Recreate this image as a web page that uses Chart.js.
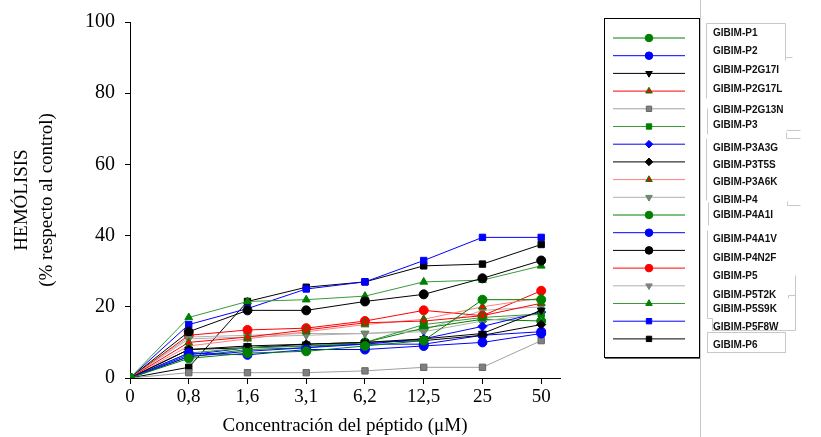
<!DOCTYPE html>
<html>
<head>
<meta charset="utf-8">
<script src="https://cdn.jsdelivr.net/npm/chart.js@4/dist/chart.umd.min.js"></script>
<style>
  html, body { margin: 0; padding: 0; background: #fff; }
  #wrap { width: 821px; height: 437px; }
</style>
</head>
<body>
<div id="wrap"><canvas id="chart" width="821" height="437"></canvas></div>
<script>
// ── Data ─────────────────────────────────────────────────────────────
const CONC_LABELS = ['0', '0,8', '1,6', '3,1', '6,2', '12,5', '25', '50'];
const Y_TICKS = [0, 20, 40, 60, 80, 100];

const P1     = [0, 5.5, 7, 7.5, 9, 10.5, 22, 22];
const P2     = [0, 7, 6.5, 8, 8, 9, 10, 12.5];
const P2G17I = [0, 8, 9, 9.5, 10, 11, 12.5, 19];
const P2G17L = [0, 10, 11.5, 13.5, 15.5, 16, 17.5, 21];
const P2G13N = [0, 1.5, 1.5, 1.5, 2, 3, 3, 10.5];
const P3     = [0, 7, 8.5, 9, 10, 15, 17, 18];
const P3A3G  = [0, 6, 7.5, 8.5, 9.5, 11, 14.5, 18.5];
const P3T5S  = [0, 8, 8.5, 9.5, 10, 10.5, 12, 15];
const P3A6K  = [0, 9, 11, 13, 15, 16.5, 20, 22.5];
const P4     = [0, 11, 11.5, 12, 12.5, 13, 16, 18];
const P4A1I  = [0, 6, 8, 8.5, 10, 14, 16.5, 16];
const P4A1V  = [0, 6.5, 8.5, 9, 9.5, 9.5, 12, 13];
const P4N2F  = [0, 13, 19, 19, 21.5, 23.5, 28, 33];
const P5     = [0, 12, 13.5, 14, 16, 19, 17.5, 24.5];
const P5T2K  = [0, 11.5, 12, 12.5, 12.5, 13.5, 19, 20];
const P5S9K  = [0, 17, 21.5, 22, 23, 27, 27.5, 31.5];
const P5F8W  = [0, 15, 19.5, 25, 27, 33, 39.5, 39.5];
const P6     = [0, 3, 21.5, 25.5, 27, 31.5, 32, 37.5];

// ── Styles ───────────────────────────────────────────────────────────
const GREEN = '#008000', BLUE = '#0000ff', BLACK = '#000000', RED = '#ff0000', GRAY = '#808080';

function series(label, data, line, fill, style, extra) {
  return Object.assign({
    label,
    data: data.map((v, i) => ({ x: i, y: v })),
    borderColor: line,
    backgroundColor: fill,
    pointBackgroundColor: fill,
    pointBorderColor: fill,
    pointStyle: style,
    pointRotation: 0,
    pointRadius: 4.5,
    pointBorderWidth: 1,
    borderWidth: 1,
    tension: 0,
    fill: false,
  }, extra || {});
}

const datasets = [
  series('GIBIM-P1', P1, GREEN, GREEN, 'circle'),
  series('GIBIM-P2', P2, BLUE, BLUE, 'circle'),
  series('GIBIM-P2G17I', P2G17I, BLACK, BLACK, 'triangle', { pointRotation: 180 }),
  series('GIBIM-P2G17L', P2G17L, RED, RED, 'triangle', { pointBorderColor: GREEN }),
  series('GIBIM-P2G13N', P2G13N, '#a0a0a0', GRAY, 'rect', { pointBorderColor: '#666666' }),
  series('GIBIM-P3', P3, '#3a9a3a', GREEN, 'rect'),
  series('GIBIM-P3A3G', P3A3G, BLUE, BLUE, 'rectRot'),
  series('GIBIM-P3T5S', P3T5S, BLACK, BLACK, 'rectRot'),
  series('GIBIM-P3A6K', P3A6K, '#ff8080', RED, 'triangle', { pointBorderColor: GREEN }),
  series('GIBIM-P4', P4, '#b0b0b0', GRAY, 'triangle', { pointRotation: 180, pointBorderColor: '#5a8a5a' }),
  series('GIBIM-P4A1I', P4A1I, GREEN, GREEN, 'circle'),
  series('GIBIM-P4A1V', P4A1V, BLUE, BLUE, 'circle'),
  series('GIBIM-P4N2F', P4N2F, BLACK, BLACK, 'circle'),
  series('GIBIM-P5', P5, RED, RED, 'circle'),
  series('GIBIM-P5T2K', P5T2K, '#b0b0b0', GRAY, 'triangle', { pointRotation: 180 }),
  series('GIBIM-P5S9K', P5S9K, '#3a9a3a', GREEN, 'triangle'),
  series('GIBIM-P5F8W', P5F8W, BLUE, BLUE, 'rect'),
  series('GIBIM-P6', P6, BLACK, BLACK, 'rect'),
];

// legend layout (SigmaPlot-style boxed legend with detached labels)
const LEG_ROW0 = 38, LEG_STEP = 17.7;
const LEG_TEXT_Y = [33, 51, 70, 89, 110, 125, 148, 165, 182, 200, 215, 239, 258, 276, 295, 309, 327, 345];

const legendPlugin = {
  id: 'boxLegend',
  afterDraw(chart) {
    const ctx = chart.ctx;
    const H = Chart.helpers;
    ctx.save();
    // faint outline of the label boxes
    ctx.strokeStyle = '#c8c8c8';
    ctx.lineWidth = 1;
    ctx.beginPath();
    ctx.moveTo(700.5, 0); ctx.lineTo(700.5, 437);
    ctx.moveTo(706.5, 23.5); ctx.lineTo(785.5, 23.5); ctx.lineTo(785.5, 57.5); ctx.lineTo(792.5, 57.5);
    ctx.moveTo(785.5, 57.5); ctx.lineTo(785.5, 60.5);
    ctx.moveTo(706.5, 23.5); ctx.lineTo(706.5, 98.5);
    ctx.moveTo(707.5, 108.5); ctx.lineTo(707.5, 134.5);
    ctx.moveTo(786.5, 130.5); ctx.lineTo(800.5, 130.5);
    ctx.moveTo(786.5, 132.5); ctx.lineTo(786.5, 138.5); ctx.lineTo(800.5, 138.5);
    ctx.moveTo(706.5, 138.5); ctx.lineTo(706.5, 200.5);
    ctx.moveTo(708.5, 202.5); ctx.lineTo(708.5, 225.5);
    ctx.moveTo(787.5, 201.5); ctx.lineTo(787.5, 205.5); ctx.lineTo(800.5, 205.5);
    ctx.moveTo(707.5, 230.5); ctx.lineTo(707.5, 318.5); ctx.lineTo(712.5, 318.5); ctx.lineTo(712.5, 330.5);
    ctx.moveTo(712.5, 330.5); ctx.lineTo(795.5, 330.5); ctx.lineTo(795.5, 275.5);
    ctx.moveTo(788.5, 298.5); ctx.lineTo(788.5, 295.5); ctx.lineTo(795.5, 295.5);
    ctx.stroke();
    ctx.strokeRect(707.5, 332.5, 78, 20);

    // main legend box
    ctx.strokeStyle = '#000';
    ctx.lineWidth = 1;
    ctx.strokeRect(604.5, 18.5, 95, 339);
    ctx.strokeStyle = '#666';
    ctx.beginPath();
    ctx.moveTo(605, 358.5); ctx.lineTo(700, 358.5);
    ctx.stroke();

    chart.data.datasets.forEach((ds, i) => {
      const y = LEG_ROW0 + i * LEG_STEP;
      ctx.strokeStyle = ds.borderColor;
      ctx.lineWidth = 1;
      ctx.beginPath();
      ctx.moveTo(613, y); ctx.lineTo(685, y);
      ctx.stroke();
      ctx.fillStyle = ds.pointBackgroundColor;
      ctx.strokeStyle = ds.pointBorderColor;
      ctx.lineWidth = 1;
      H.drawPoint(ctx, { pointStyle: ds.pointStyle, rotation: ds.pointRotation, radius: 3.8, borderWidth: 1 }, 649, y);

      ctx.fillStyle = '#111';
      ctx.font = 'bold 10px "Liberation Sans", Arial, sans-serif';
      ctx.textBaseline = 'middle';
      ctx.textAlign = 'left';
      ctx.fillText(ds.label, 713, LEG_TEXT_Y[i]);
    });
    ctx.restore();
  }
};

const serif = '"Liberation Serif", "Times New Roman", serif';

new Chart(document.getElementById('chart'), {
  type: 'line',
  data: { datasets },
  options: {
    responsive: false,
    animation: false,
    layout: { padding: { top: 19, right: 261, left: 0, bottom: 0 } },
    plugins: { legend: { display: false }, tooltip: { enabled: false } },
    scales: {
      x: {
        type: 'linear',
        min: 0,
        max: 7.32,
        afterBuildTicks: s => { s.ticks = CONC_LABELS.map((_, i) => ({ value: i })); },
        afterFit: s => { s.height = 59; },
        border: { display: true, color: '#000', width: 1 },
        grid: { drawOnChartArea: false, drawTicks: true, tickLength: 6, color: '#000' },
        ticks: {
          color: '#000',
          font: { family: serif, size: 19 },
          padding: 2,
          maxRotation: 0,
          callback: v => CONC_LABELS[v],
        },
        title: {
          display: true,
          text: 'Concentración del péptido (μM)',
          color: '#000',
          font: { family: serif, size: 19 },
          padding: { top: 0, bottom: 0 },
        },
      },
      y: {
        min: 0,
        max: 100,
        afterBuildTicks: s => { s.ticks = Y_TICKS.map(v => ({ value: v })); },
        afterFit: s => { s.width = 130; },
        border: { display: true, color: '#000', width: 1 },
        grid: { drawOnChartArea: false, drawTicks: true, tickLength: 5, color: '#000' },
        ticks: {
          color: '#000',
          font: { family: serif, size: 20 },
          padding: 10,
        },
        title: {
          display: true,
          text: ['HEMÓLISIS', '(% respecto al control)'],
          color: '#000',
          font: { family: serif, size: 19, lineHeight: 1.35 },
          padding: { top: 9, bottom: 0 },
        },
      },
    },
  },
  plugins: [legendPlugin],
});
</script>
</body>
</html>
